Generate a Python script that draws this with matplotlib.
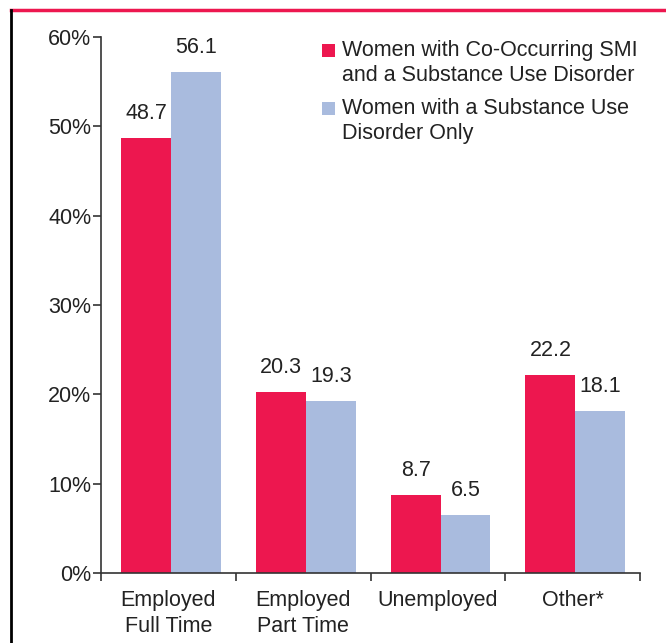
import matplotlib
matplotlib.use("Agg")
import matplotlib.pyplot as plt
from matplotlib.lines import Line2D
from matplotlib.patches import Rectangle
import numpy as np

plt.rcParams['font.family'] = ['Liberation Sans', 'DejaVu Sans']

categories = ["Employed\nFull Time", "Employed\nPart Time", "Unemployed", "Other*"]
series_names = ["Women with Co-Occurring SMI\nand a Substance Use Disorder",
                "Women with a Substance Use\nDisorder Only"]
smi_values = [48.7, 20.3, 8.7, 22.2]
sud_values = [56.1, 19.3, 6.5, 18.1]
y_ticks = [0, 10, 20, 30, 40, 50, 60]

red = "#ED174F"
blue = "#A9BBDE"
colors = [red, blue]
fs = 15.5
tc = "#222222"

W, H = 666, 643
fig = plt.figure(figsize=(W/100, H/100), dpi=100)
ax = fig.add_axes([101/W, 70/H, 539/W, 536/H])

x = np.arange(len(categories))
w = 0.37
b1 = ax.bar(x - w/2 + 0.02, smi_values, w, color=red)
b2 = ax.bar(x + w/2 + 0.02, sud_values, w, color=blue)

for bars, vals in ((b1, smi_values), (b2, sud_values)):
    for bar, v in zip(bars, vals):
        ax.annotate(f"{v:.1f}", (bar.get_x() + bar.get_width()/2, v),
                    xytext=(0, 10), textcoords="offset points",
                    ha="center", va="bottom", fontsize=fs, color=tc)

ax.set_xlim(-0.5, len(categories) - 0.5)
ax.set_ylim(0, 60)
ax.set_yticks(y_ticks)
ax.set_yticklabels([f"{t}%" for t in y_ticks], fontsize=fs, color=tc)
ax.set_xticks(np.arange(len(categories) + 1) - 0.5)
ax.set_xticklabels([])
ax.set_xticks(x, minor=True)
ax.set_xticklabels(categories, minor=True, fontsize=fs, color=tc, linespacing=1.35)
ax.tick_params(axis="x", which="minor", length=0, pad=12)
ax.tick_params(axis="x", which="major", length=6, width=1.2, direction="out", color="#333333")
ax.tick_params(axis="y", length=6, width=1.2, direction="out", color="#333333", pad=1)
for s in ("top", "right"):
    ax.spines[s].set_visible(False)
for s in ("left", "bottom"):
    ax.spines[s].set_linewidth(1.2)
    ax.spines[s].set_color("#333333")

# legend (manual, squares aligned to first line)
leg_x_sq = 322
leg_x_txt = 342
leg_top = [40, 98]  # top of text block, pixels from top
for name, c, yt in zip(series_names, colors, leg_top):
    fig.add_artist(Rectangle((leg_x_sq/W, 1 - (yt + 17)/H), 13/W, 13/H,
                             transform=fig.transFigure, color=c, lw=0))
    fig.text(leg_x_txt/W, 1 - yt/H, name, fontsize=fs, color=tc,
             ha="left", va="top", linespacing=1.22)

fig.add_artist(Line2D([11/W, 1], [1 - 10/H, 1 - 10/H], color=red, lw=2.5,
                      transform=fig.transFigure))
fig.add_artist(Line2D([11/W, 11/W], [0, 1 - 10/H], color="black", lw=2,
                      transform=fig.transFigure))

fig.savefig("out.png", dpi=100)
